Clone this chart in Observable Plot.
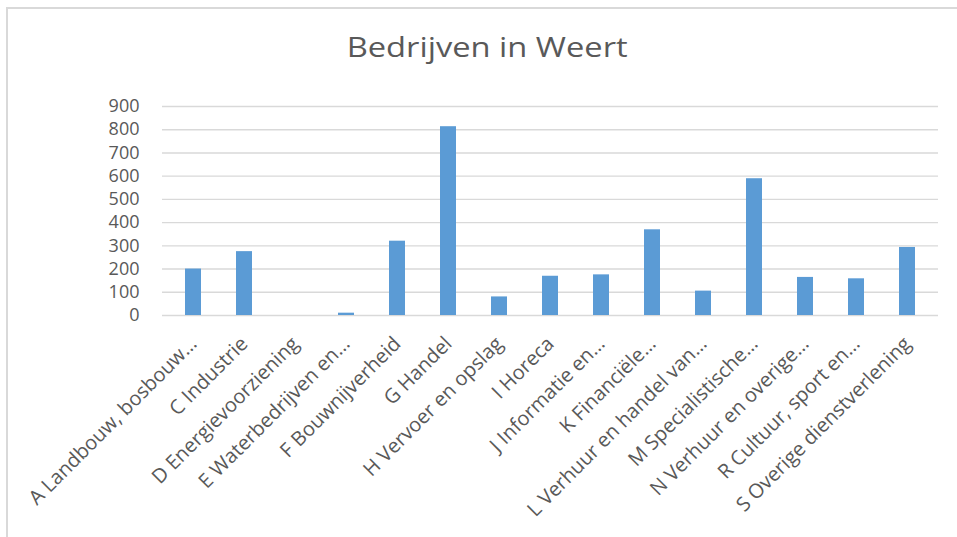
<!DOCTYPE html>
<html>
<head>
<meta charset="utf-8">
<script src="https://cdn.jsdelivr.net/npm/d3@7"></script>
<script src="https://cdn.jsdelivr.net/npm/@observablehq/plot@0.6"></script>
<style>
  body { margin: 0; background: #fff; }
  #wrap { position: relative; width: 957px; height: 537px; overflow: hidden; font-family: "Open Sans", sans-serif; background: #fff; }
  #frame { position: absolute; left: 6px; top: 7px; width: 1000px; height: 600px; border-top: 2px solid #d9d9d9; border-left: 2px solid #d9d9d9; box-sizing: border-box; }
  #title { position: absolute; left: 0; width: 975px; top: 28px; text-align: center; font-size: 27px; color: #595959; white-space: nowrap; }
  #title span { display: inline-block; transform-origin: center; }
  #chart { position: absolute; left: 0; top: 80px; }
</style>
</head>
<body>
<div id="wrap">
  <div id="frame"></div>
  <div id="title"><span id="titletext">Bedrijven in Weert</span></div>
  <div id="chart"></div>
</div>
<script>
const categories = [
  "A Landbouw, bosbouw…",
  "C Industrie",
  "D Energievoorziening",
  "E Waterbedrijven en…",
  "F Bouwnijverheid",
  "G Handel",
  "H Vervoer en opslag",
  "I Horeca",
  "J Informatie en…",
  "K Financiële…",
  "L Verhuur en handel van…",
  "M Specialistische…",
  "N Verhuur en overige…",
  "R Cultuur, sport en…",
  "S Overige dienstverlening"
];
const values = [200, 275, 0, 10, 320, 813, 80, 169, 175, 369, 105, 589, 164, 158, 293];
const yTicks = [0, 100, 200, 300, 400, 500, 600, 700, 800, 900];

const data = categories.map((c, i) => ({category: c, value: values[i]}));

const chart = Plot.plot({
  width: 957,
  height: 457,
  marginTop: 26,
  marginBottom: 222,
  marginLeft: 162,
  marginRight: 19,
  style: { fontFamily: "Open Sans, sans-serif", fontSize: "18px", color: "#595959", background: "transparent" },
  x: { type: "band", domain: categories, paddingInner: 0.69, paddingOuter: 0.345, align: 0.5 },
  y: { domain: [0, 900] },
  marks: [
    Plot.gridY(yTicks, { stroke: "#d9d9d9", strokeOpacity: 1, strokeWidth: 1.4 }),
    Plot.barY(data, { x: "category", y: "value", fill: "#5b9bd5" }),
    Plot.axisY(yTicks, { tickSize: 0, tickPadding: 23, label: null, fontSize: 18, fill: "#595959" }),
    Plot.axisX({ tickSize: 0, tickPadding: 25, tickRotate: -45, label: null, fontSize: 20, fill: "#595959" })
  ]
});
document.getElementById("chart").appendChild(chart);

// stretch title to match the wide title in the reference
const t = document.getElementById("titletext");
const w = t.getBoundingClientRect().width;
t.style.transform = `scaleX(${281 / w})`;
</script>
</body>
</html>
